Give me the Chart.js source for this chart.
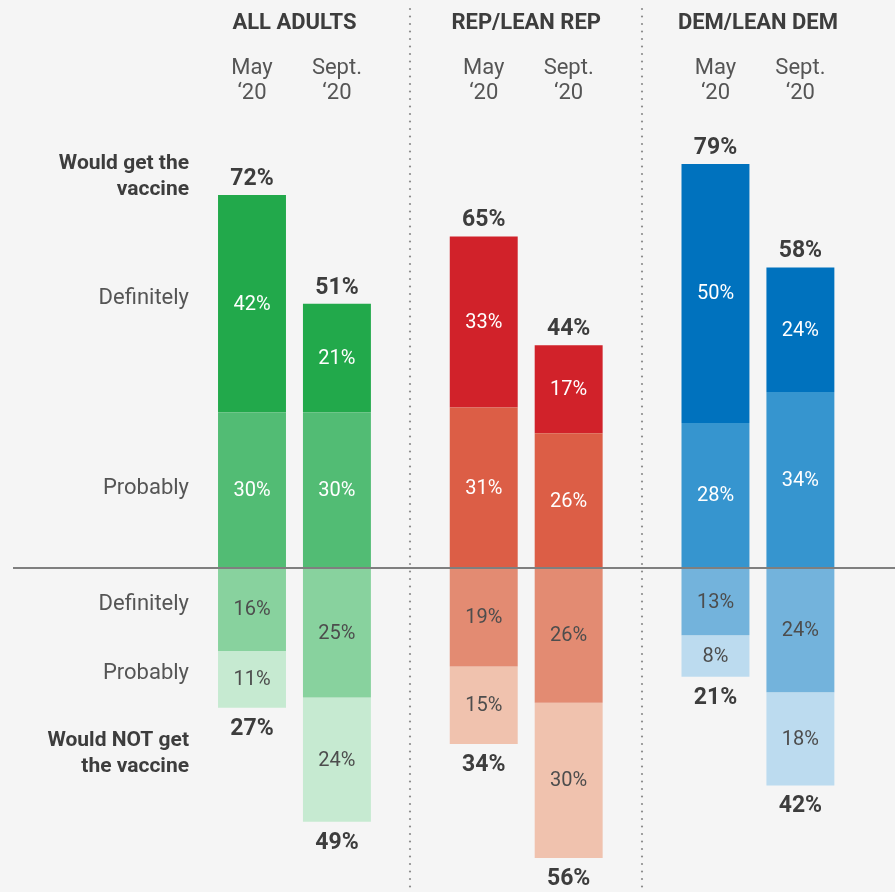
<!DOCTYPE html>
<html>
<head>
<meta charset="utf-8">
<script src="https://cdn.jsdelivr.net/npm/chart.js@4"></script>
<style>
  html, body { margin:0; padding:0; background:#f5f5f5; }
  #wrap { width:895px; height:892px; }
</style>
</head>
<body>
<div id="wrap"><canvas id="chart" width="895" height="892"></canvas></div>
<script>
const groups = ['ALL ADULTS', 'REP/LEAN REP', 'DEM/LEAN DEM'];
const waveNames = ['May', 'Sept.'];
const waveYear = '‘20';

// percent of each group, May and Sept. 2020
const mayDefinitelyYes = [42, 33, 50];
const mayProbablyYes = [30, 31, 28];
const mayDefinitelyNo = [16, 19, 13];
const mayProbablyNo = [11, 15, 8];
const septDefinitelyYes = [21, 17, 24];
const septProbablyYes = [30, 26, 34];
const septDefinitelyNo = [25, 26, 24];
const septProbablyNo = [24, 30, 18];

// net labels as published
const mayWouldGet = [72, 65, 79];
const septWouldGet = [51, 44, 58];
const mayWouldNot = [27, 34, 21];
const septWouldNot = [49, 56, 42];

const colDefYes = ['#22a94b', '#d1222a', '#0072be'];
const colProbYes = ['#52bc74', '#dc5e46', '#3695cf'];
const colDefNo = ['#88d29e', '#e38b72', '#73b3dc'];
const colProbNo = ['#c6ead1', '#f0c2ae', '#bcdbef'];

const FONT = 'Roboto, "Liberation Sans", Arial, sans-serif';
const neg = a => a.map(v => -v);

function seg(stack, data, colors, role) {
  return { stack: stack, data: data, backgroundColor: colors, borderWidth: 0, role: role };
}

const datasets = [
  seg('may', mayProbablyYes, colProbYes, 'yes'),
  seg('may', mayDefinitelyYes, colDefYes, 'yesTop'),
  seg('may', neg(mayDefinitelyNo), colDefNo, 'no'),
  seg('may', neg(mayProbablyNo), colProbNo, 'noBottom'),
  seg('sept', septProbablyYes, colProbYes, 'yes'),
  seg('sept', septDefinitelyYes, colDefYes, 'yesTop'),
  seg('sept', neg(septDefinitelyNo), colDefNo, 'no'),
  seg('sept', neg(septProbablyNo), colProbNo, 'noBottom')
];

const totals = {
  may: { top: mayWouldGet, bottom: mayWouldNot },
  sept: { top: septWouldGet, bottom: septWouldNot }
};

const overlay = {
  id: 'overlay',
  beforeDatasetsDraw(chart) {
    const ctx = chart.ctx, xs = chart.scales.x;
    ctx.save();
    ctx.fillStyle = '#8c8c8c';
    for (let j = 0; j < groups.length - 1; j++) {
      const dx = Math.round((xs.getPixelForValue(j) + xs.getPixelForValue(j + 1)) / 2);
      for (let yy = 9; yy < chart.height; yy += 7.5) {
        ctx.beginPath(); ctx.arc(dx, yy, 1.1, 0, Math.PI * 2); ctx.fill();
      }
    }
    ctx.restore();
  },
  afterDatasetsDraw(chart) {
    const ctx = chart.ctx, xs = chart.scales.x, ys = chart.scales.y;
    const zero = ys.getPixelForValue(0);
    ctx.save();
    // zero line
    ctx.strokeStyle = '#7f7f7f'; ctx.lineWidth = 2;
    ctx.beginPath(); ctx.moveTo(13, zero); ctx.lineTo(chart.width, zero); ctx.stroke();

    ctx.textAlign = 'center'; ctx.textBaseline = 'middle';
    // segment values
    chart.data.datasets.forEach((ds, i) => {
      const meta = chart.getDatasetMeta(i);
      meta.data.forEach((bar, j) => {
        const v = ds.data[j];
        ctx.font = '20px ' + FONT;
        ctx.fillStyle = v > 0 ? '#ffffff' : '#4d4d4d';
        ctx.fillText(Math.abs(v) + '%', bar.x, (bar.y + bar.base) / 2 + 1);
        if (ds.role === 'yesTop') {
          ctx.font = 'bold 23px ' + FONT; ctx.fillStyle = '#3d3d3d';
          ctx.fillText(totals[ds.stack].top[j] + '%', bar.x, bar.y - 16);
        }
        if (ds.role === 'noBottom') {
          ctx.font = 'bold 23px ' + FONT; ctx.fillStyle = '#3d3d3d';
          ctx.fillText(totals[ds.stack].bottom[j] + '%', bar.x, bar.y + 21);
        }
        if (ds.role === 'yesTop') {
          ctx.font = '22px ' + FONT; ctx.fillStyle = '#555555';
          const w = ds.stack === 'may' ? 0 : 1;
          ctx.fillText(waveNames[w], bar.x, 68);
          ctx.fillText(waveYear, bar.x, 93);
        }
      });
    });

    // group headers
    ctx.font = 'bold 22px ' + FONT; ctx.fillStyle = '#3d3d3d';
    groups.forEach((g, j) => ctx.fillText(g, xs.getPixelForValue(j), 23));

    // row labels on the left
    ctx.textAlign = 'right';
    const lx = 189;
    ctx.font = 'bold 21px ' + FONT; ctx.fillStyle = '#3d3d3d';
    ctx.fillText('Would get the', lx, 164);
    ctx.fillText('vaccine', lx, 190);
    ctx.fillText('Would NOT get', lx, 741);
    ctx.fillText('the vaccine', lx, 767);
    ctx.font = '22px ' + FONT; ctx.fillStyle = '#555555';
    ctx.fillText('Definitely', lx, 298);
    ctx.fillText('Probably', lx, 488);
    ctx.fillText('Definitely', lx, 604);
    ctx.fillText('Probably', lx, 673);
    ctx.restore();
  }
};

new Chart(document.getElementById('chart'), {
  type: 'bar',
  data: { labels: groups, datasets: datasets },
  options: {
    responsive: false,
    animation: false,
    categoryPercentage: 0.733,
    barPercentage: 0.8,
    layout: { padding: { left: 178.6, right: 21.2, top: 153.6, bottom: 13.2 } },
    scales: {
      x: { stacked: true, display: false },
      y: { stacked: true, display: false, min: -60, max: 80 }
    },
    plugins: { legend: { display: false }, tooltip: { enabled: false } }
  },
  plugins: [overlay]
});
</script>
</body>
</html>
